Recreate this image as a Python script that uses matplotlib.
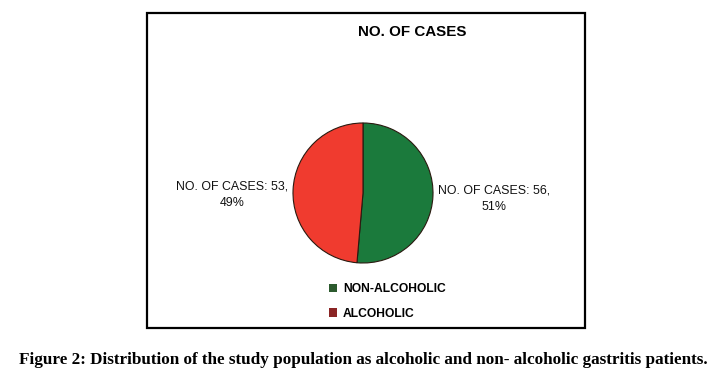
import matplotlib.pyplot as plt
from matplotlib.patches import Patch, Rectangle

# data
categories = ["NON-ALCOHOLIC", "ALCOHOLIC"]
cases = [56, 53]
pie_colors = ["#1b7a3c", "#f03b2f"]
legend_colors = ["#2c5a2e", "#8a2424"]

W, H = 727, 377
fig = plt.figure(figsize=(W / 100, H / 100), dpi=100)
fig.patch.set_facecolor("white")


def px(x0, y0, x1, y1):
    # pixel box (top-left origin) -> figure fraction rect
    return [x0 / W, 1 - y1 / H, (x1 - x0) / W, (y1 - y0) / H]


# outer chart border
fig.add_artist(Rectangle((147 / W, 1 - 328 / H), (585 - 147) / W, (328 - 13) / H,
                         transform=fig.transFigure, fill=False,
                         edgecolor="black", linewidth=1.6))

fig.text(412 / W, 1 - 32 / H, "NO. OF CASES", ha="center", va="center",
         fontsize=10.9, fontweight="bold", family="Liberation Sans")

# pie with its cream plot area
ax = fig.add_axes(px(289, 119, 437, 267))
ax.set_facecolor("#f8f3e0")
total = sum(cases)
pcts = [round(100 * v / total) for v in cases]
labels = [f"NO. OF CASES: {v},\n{p}%" for v, p in zip(cases, pcts)]
wedges, texts = ax.pie(cases, colors=pie_colors, startangle=90, counterclock=False,
                       labels=labels, labeldistance=1.87,
                       wedgeprops=dict(edgecolor="#2a1a10", linewidth=0.8),
                       textprops=dict(fontsize=8.9, family="Liberation Sans",
                                      color="#111111", linespacing=1.5))
for t in texts:
    t.set_ha("center")
    t.set_clip_on(False)
texts[1].set_y(-0.02)
ax.set_xlim(-1.057, 1.057)
ax.set_ylim(-1.057, 1.057)
ax.set_aspect("auto")
ax.set_xticks([])
ax.set_yticks([])
for s in ax.spines.values():
    s.set_visible(False)

handles = [Patch(facecolor=c, edgecolor="none") for c in legend_colors]
fig.legend(handles, categories, loc="upper left", bbox_to_anchor=(329 / W, 1 - 283 / H),
           frameon=False, borderpad=0, borderaxespad=0, handlelength=0.7,
           handleheight=0.7, handletextpad=0.45, labelspacing=1.05,
           prop=dict(size=8.7, weight="bold", family="Liberation Sans"))

fig.text(363 / W, 1 - 360 / H,
         "Figure 2: Distribution of the study population as alcoholic and non- alcoholic gastritis patients.",
         ha="center", va="center", fontsize=12.3, fontweight="bold", family="Liberation Serif")

fig.savefig("out.png", dpi=100)
